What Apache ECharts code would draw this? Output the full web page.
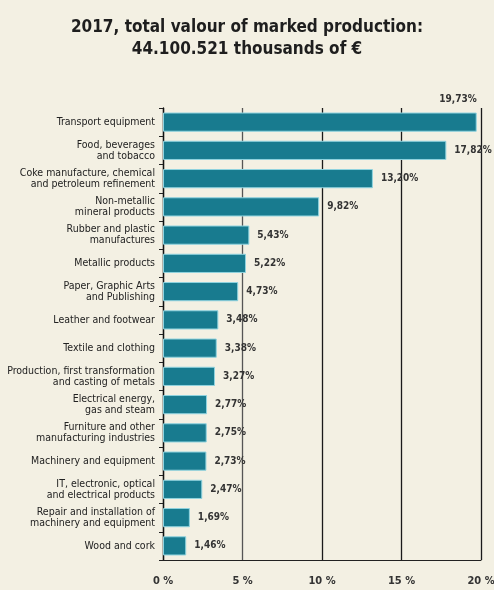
<!DOCTYPE html>
<html>
<head>
<meta charset="utf-8">
<script src="https://cdn.jsdelivr.net/npm/echarts@6/dist/echarts.min.js"></script>
<style>
  html, body { margin: 0; padding: 0; background: #f3f0e3; }
  #chart { width: 494px; height: 590px; }
</style>
</head>
<body>
<div id="chart"></div>
<script>
/* 2017 production share by sector */

var sectors = [
    'Transport equipment',
    'Food, beverages\nand tobacco',
    'Coke manufacture, chemical\nand petroleum refinement',
    'Non-metallic\nmineral products',
    'Rubber and plastic\nmanufactures',
    'Metallic products',
    'Paper, Graphic Arts\nand Publishing',
    'Leather and footwear',
    'Textile and clothing',
    'Production, first transformation\nand casting of metals',
    'Electrical energy,\ngas and steam',
    'Furniture and other\nmanufacturing industries',
    'Machinery and equipment',
    'IT, electronic, optical\nand electrical products',
    'Repair and installation of\nmachinery and equipment',
    'Wood and cork'
];
var shares = [19.73, 17.82, 13.20, 9.82, 5.43, 5.22, 4.73, 3.48, 3.38, 3.27, 2.77, 2.75, 2.73, 2.47, 1.69, 1.46];
var xTicks = [0, 5, 10, 15, 20];

var narrow = '"DejaVu Sans Condensed", "Liberation Sans Narrow", sans-serif';

var barData = shares.map(function (v, i) {
    if (i === 0) {
        // top bar reaches the edge, label sits above it
        return { value: v, label: { position: ['100%', -8], align: 'right', verticalAlign: 'bottom' } };
    }
    return v;
});

var myChart = echarts.init(document.getElementById('chart'));
var option = {
    backgroundColor: '#f3f0e3',
    animation: false,
    title: {
        text: '2017, total valour of marked production:\n44.100.521 thousands of \u20ac',
        left: 'center',
        top: 12,
        textStyle: {
            fontFamily: narrow,
            fontSize: 17,
            fontWeight: 'bold',
            color: '#1e1e1e',
            lineHeight: 22
        }
    },
    grid: {
        left: 163,
        right: 13,
        top: 108,
        bottom: 30,
        outerBoundsMode: 'none'
    },
    xAxis: {
        type: 'value',
        min: 0,
        max: 20,
        interval: 5,
        axisLine: { show: true, lineStyle: { color: '#222', width: 1 } },
        axisTick: { show: false },
        splitLine: { show: true, lineStyle: { color: ['#1a1a1a', '#555', '#1a1a1a', '#1a1a1a', '#1a1a1a'], width: 1.3 } },
        axisLabel: {
            margin: 16,
            fontFamily: narrow,
            fontSize: 11,
            fontWeight: 'bold',
            color: '#333',
            formatter: function (v) { return xTicks.indexOf(v) >= 0 ? v + ' %' : ''; }
        }
    },
    yAxis: {
        type: 'category',
        inverse: true,
        data: sectors,
        axisLine: { show: true, lineStyle: { color: '#111', width: 1.3 } },
        axisTick: { show: true, length: 4, lineStyle: { color: '#222' } },
        axisLabel: {
            margin: 8,
            fontFamily: narrow,
            fontSize: 10.5,
            lineHeight: 11,
            color: '#222'
        }
    },
    series: [{
        type: 'bar',
        data: barData,
        barWidth: '68%',
        itemStyle: {
            color: '#187b8f',
            borderColor: '#8fd3df',
            borderWidth: 1
        },
        label: {
            show: true,
            position: 'right',
            distance: 8,
            fontFamily: narrow,
            fontSize: 10,
            fontWeight: 'bold',
            color: '#333',
            formatter: function (p) { return p.value.toFixed(2).replace('.', ',') + '%'; }
        }
    }]
};
myChart.setOption(option);
</script>
</body>
</html>
